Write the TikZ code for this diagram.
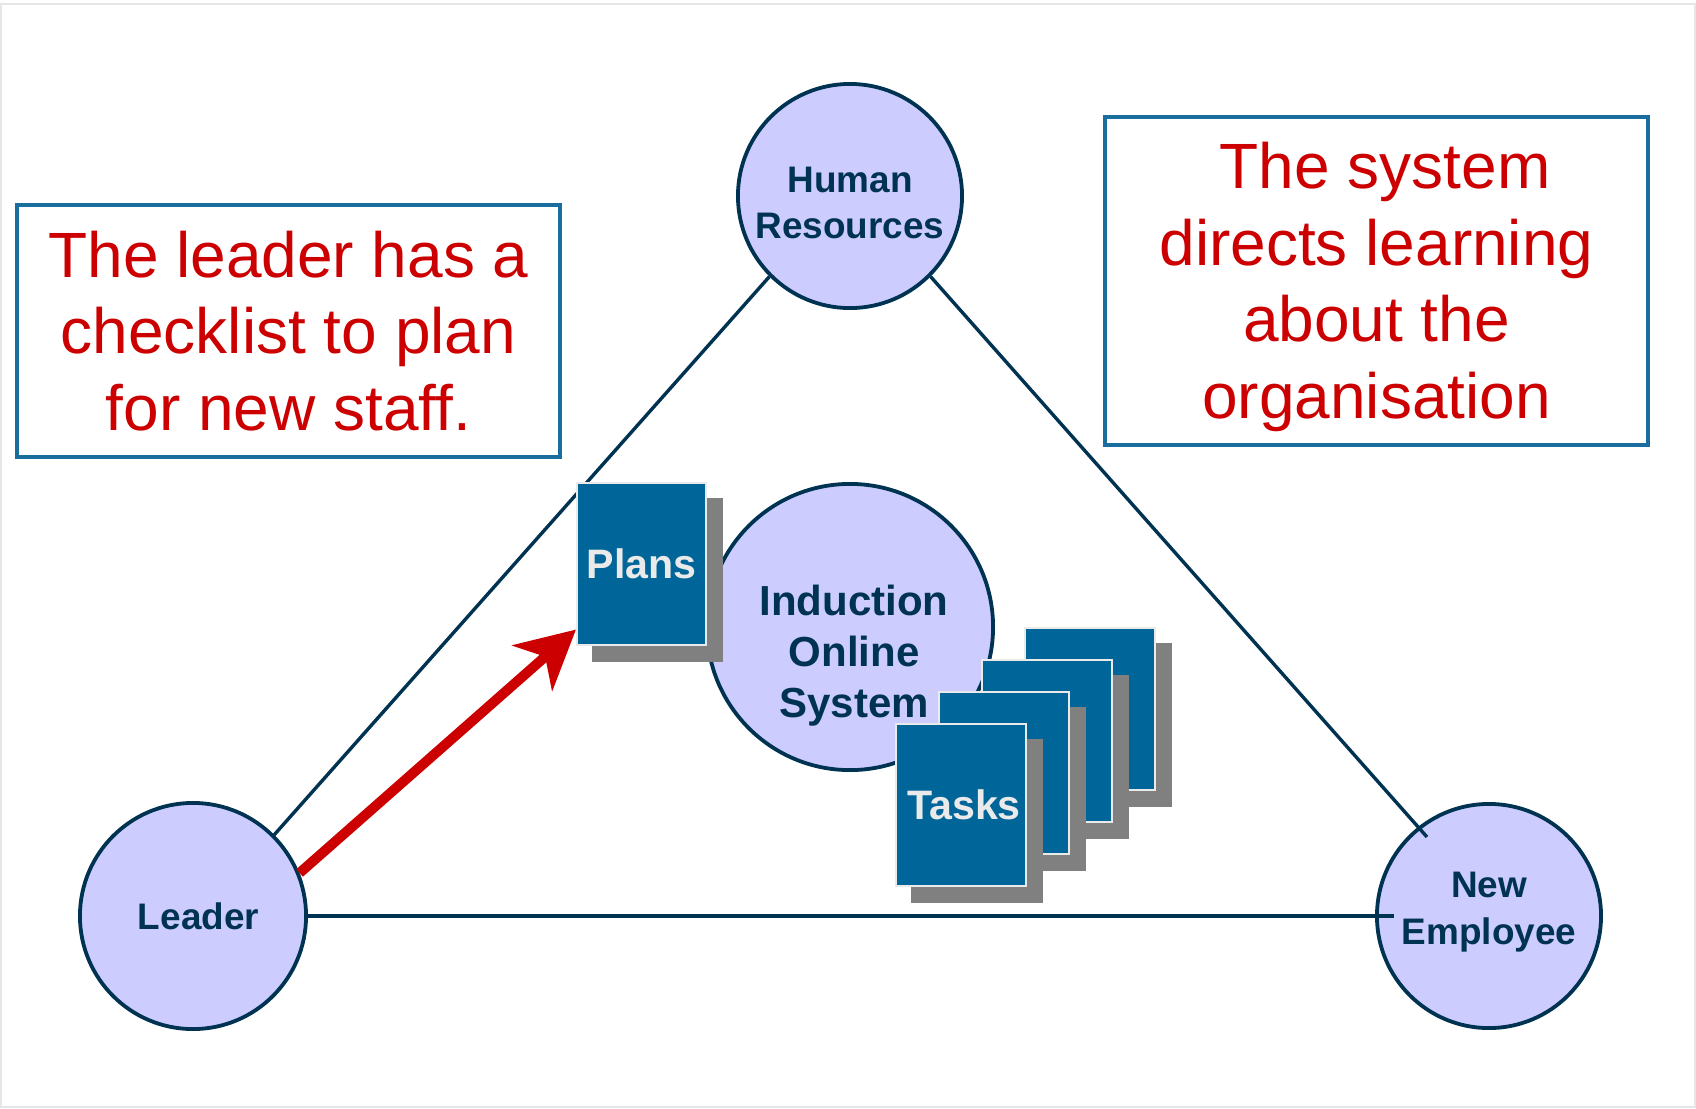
\documentclass[tikz,border=0pt]{standalone}
\usepackage{fontspec}
\setmainfont{Liberation Sans}
\usetikzlibrary{arrows.meta,calc,shadows}
\definecolor{navy}{HTML}{003352}
\definecolor{lilac}{HTML}{CCCCFF}
\definecolor{cardblue}{HTML}{006699}
\definecolor{cardedge}{HTML}{EAEAEA}
\definecolor{shadowgray}{HTML}{808080}
\definecolor{alertred}{HTML}{CC0000}
\definecolor{framegray}{HTML}{E6E6E6}
\definecolor{boxblue}{HTML}{1A6E9E}
\begin{document}
\begin{tikzpicture}[x=0.01cm, y=-0.01cm,
  roundnode/.style={circle, draw=navy, fill=lilac, line width=0.038cm, inner sep=0pt,
    text=navy, font=\fontsize{10.5pt}{13.1pt}\bfseries\selectfont, align=center},
  link/.style={draw=navy, line width=0.034cm},
  card/.style={rectangle, fill=cardblue, draw=cardedge, line width=0.02cm,
    minimum width=1.29cm, minimum height=1.61cm, inner sep=0pt, text=cardedge,
    font=\fontsize{11.7pt}{14pt}\bfseries\selectfont,
    copy shadow={shadow xshift=0.16cm, shadow yshift=-0.16cm, fill=shadowgray, draw=shadowgray}},
  notebox/.style={rectangle, draw=boxblue, line width=0.035cm, fill=white, inner sep=0pt,
    text=alertred, align=center, font=\fontsize{18.2pt}{21.8pt}\selectfont},
  bigarrow/.style={draw=alertred, line width=0.1cm,
    -{Stealth[length=0.58cm, width=0.6cm, inset=0.17cm]}}
]
\useasboundingbox (0,0) rectangle (1696,1108);
\draw[framegray, line width=0.02cm] (1,4) rectangle (1695,1107);

% circles
\node[roundnode, minimum size=2.24cm] (hr) at (850,196) {\rule{0pt}{0.40cm}Human\\Resources};
\node[roundnode, minimum size=2.26cm] (leader) at (193,916) {\hspace*{0.11cm}Leader};
\node[roundnode, minimum size=2.24cm] (ne) at (1489,916) {New\\Employee\rule[-0.155cm]{0pt}{0.155cm}};
\node[roundnode, minimum size=2.86cm] (ind) at (850,627) {};
\node[text=navy, font=\fontsize{11.95pt}{14.5pt}\bfseries\selectfont, align=center, inner sep=0pt]
  (indlbl) at ($(ind.center)+(4,29)$) {Induction\\Online\\System};

% connectors
\draw[link] (hr.225) -- (leader.45);
\draw[link] (hr.-45) -- ($(ne.center)+(-62,-79)$);
\draw[link] (leader.east) -- ($(ne.west)+(19,0)$);

% cards
\node[card] (plans) at (641.5,564) {Plans};
\node[card] (task1) at (1090,709) {};
\node[card] (task2) at (1047,741) {};
\node[card] (task3) at (1004,773) {};
\node[card] (tasks) at (961,805) {\hspace*{0.06cm}Tasks};

% arrow
\coordinate (plantip) at ($(plans.south west)+(0,-16)$);
\draw[bigarrow] (leader.22) -- (plantip);

% notes
\node[notebox, minimum width=5.43cm, minimum height=2.52cm] (leftnote) at (288.5,331)
  {The leader has a\\checklist to plan\\for new staff.};
\node[notebox, minimum width=5.43cm, minimum height=3.28cm] (rightnote) at (1376.5,281)
  {\rule{0pt}{0.58cm}\hspace*{0.17cm}The system\\directs learning\\about the\\organisation};
\end{tikzpicture}
\end{document}
